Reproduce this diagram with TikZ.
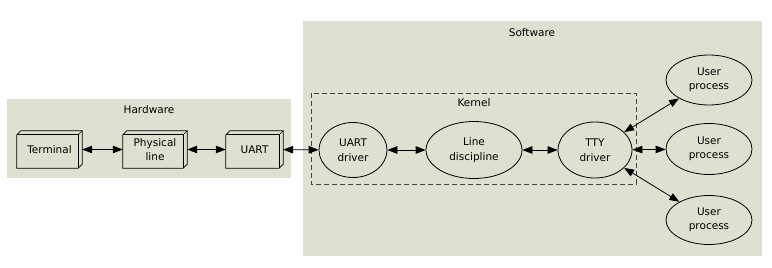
\documentclass[tikz,border=0pt]{standalone}
\usepackage{fontspec}
\setmainfont{DejaVu Sans}
\usetikzlibrary{arrows.meta,calc,shapes.geometric}
\definecolor{panel}{HTML}{E0E0D1}
\definecolor{kerneldash}{HTML}{404040}
\pgfdeclarelayer{bg}
\pgfdeclarelayer{mid}
\pgfsetlayers{bg,mid,main}
\tikzset{
  lbl/.style={font=\fontsize{10.5}{14.5}\selectfont, align=center, inner sep=0pt},
  hwbox/.style={lbl, minimum width=#1, minimum height=37pt},
  proc/.style={lbl, draw, ellipse, line width=0.8pt},
  link/.style={line width=0.8pt, {Triangle[length=10pt,width=7.5pt]}-{Triangle[length=10pt,width=7.5pt]}},
  solid3d/.style={fill=panel, draw, line width=0.7pt}
}
\begin{document}
\begin{tikzpicture}[x=1pt,y=-1pt]
\useasboundingbox (0,0) rectangle (772,268);

% hardware chain
\node[hwbox=65pt] (term) at (49.5,149.5) {Terminal};
\node[hwbox=64pt] (phys) at (155,149.5) {Physical\\line};
\node[hwbox=57pt] (uart) at (254.5,149.5) {UART};

% kernel side
\node[proc, minimum width=68pt, minimum height=55pt] (udrv) at (353,150) {UART\\driver};
\node[proc, minimum width=96pt, minimum height=57pt] (ldisc) at (474,150) {Line\\discipline};
\node[proc, minimum width=74pt, minimum height=56pt] (tty) at (595,150) {TTY\\driver};

% user processes
\node[proc, minimum width=86pt, minimum height=50pt] (up1) at (709,80) {User\\process};
\node[proc, minimum width=86pt, minimum height=51pt] (up2) at (709,149) {User\\process};
\node[proc, minimum width=86pt, minimum height=49pt] (up3) at (709,220) {User\\process};

% group labels
\node[lbl] (hwlabel) at (149,110) {Hardware};
\node[lbl] (swlabel) at (532,33) {Software};
\node[lbl] (klabel) at (474,103) {Kernel};

% panels and kernel frame
\begin{pgfonlayer}{bg}
  \fill[panel] (7,99) rectangle (291,178);
  \fill[panel] (303,21) rectangle (762,256);
  \draw[kerneldash, line width=0.8pt, dash pattern=on 5pt off 3pt] (311,93) rectangle (636,184);
\end{pgfonlayer}

% three-dimensional boxes
\begin{pgfonlayer}{mid}
\foreach \n in {term,phys,uart} {
  \draw[solid3d] (\n.south west) -- ($(\n.north west)+(0,-4pt)$)
     -- ($(\n.north west)+(4pt,0)$) -- (\n.north east)
     -- ($(\n.south east)+(0,4pt)$) -- ($(\n.south east)+(-4pt,0)$) -- cycle;
  \draw[line width=0.7pt] ($(\n.south east)+(-4pt,0)$) -- ($(\n.north east)+(-4pt,-4pt)$)
     -- ($(\n.north west)+(0,-4pt)$);
  \draw[line width=0.7pt] ($(\n.north east)+(-4pt,-4pt)$) -- (\n.north east);
}
\end{pgfonlayer}

% connectors
\draw[link] (term) -- (phys);
\draw[link] (phys) -- (uart);
\draw[link] (uart) -- (udrv);
\draw[link] (udrv) -- (ldisc);
\draw[link] (ldisc) -- (tty);
\draw[link] (tty) -- (up1);
\draw[link] (tty) -- (up2);
\draw[link] (tty) -- (up3);
\end{tikzpicture}
\end{document}
